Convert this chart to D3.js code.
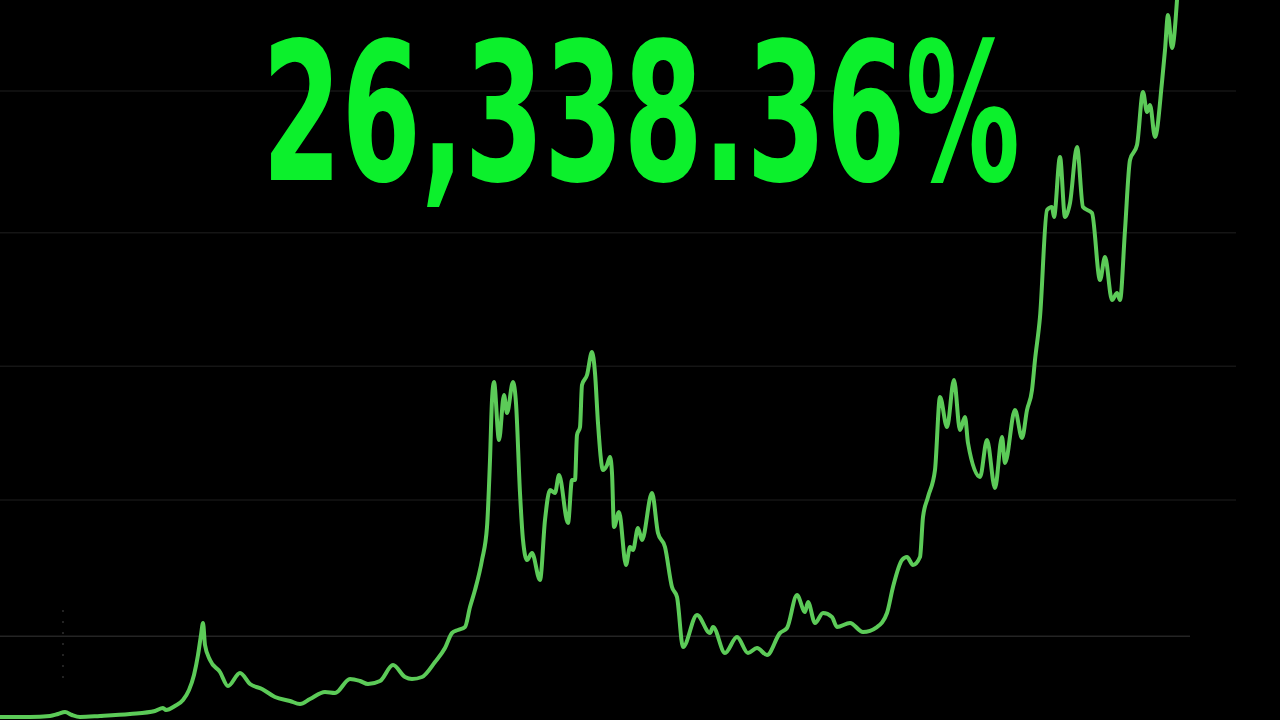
<!DOCTYPE html>
<html>
<head>
<meta charset="utf-8">
<script src="https://cdn.jsdelivr.net/npm/d3@7"></script>
<style>
  html, body { margin: 0; padding: 0; background: #000; overflow: hidden; }
  svg { display: block; }
</style>
</head>
<body>
<script>
// ---- Data ----
const title = "26,338.36%";
// time index of each sample (relative position along the period)
const periods = [0,30,50,58,65,72,80,100,130,155,163,166,175,183,189,194,198,201,203,205,210,220,228,240,250,262,275,290,300,310,325,335,350,360,368,380,393,405,412,422,435,445,452,458,465,470,475,482,487,490,492,494,499,504,507,513,516,520,523,527,532,540,545,550,555,559,568,572,575,577,580,582,587,592,595,598,603,607,610,612,614,619,626,630,633,638,642,652,658,665,672,677,683,697,710,713,725,737,748,757,767,780,787,797,805,808,815,823,832,837,850,863,877,887,893,902,907,913,920,923,928,935,940,947,954,960,965,968,980,987,995,1002,1005,1015,1022,1027,1032,1035,1040,1047,1052,1054,1060,1065,1070,1077,1083,1092,1100,1105,1112,1117,1120,1125,1130,1137,1143,1147,1150,1155,1162,1165,1168,1172,1177];
// cumulative return in percent
const returns = [37,37,73,147,220,110,37,73,147,257,367,293,440,660,1027,1577,2311,3044,3485,2678,2128,1687,1174,1651,1247,1064,770,624,514,697,954,917,1431,1357,1247,1357,1944,1504,1431,1504,2054,2568,3118,3228,3338,4071,4695,5795,7006,9463,11664,12324,10197,11848,11187,12324,11554,8253,6529,5795,6052,5062,7263,8363,8253,8913,7153,8730,8730,10380,10674,12214,12581,13425,12655,10821,9097,9280,9573,8987,7006,7556,5612,6272,6162,6969,6529,8253,6786,6272,4805,4438,2604,3778,3118,3338,2384,2971,2384,2568,2311,3118,3301,4512,3888,4255,3485,3851,3705,3338,3485,3154,3338,3851,4805,5795,5905,5612,5905,7373,8106,9097,11774,10674,12398,10564,11041,10087,8840,10197,8436,10307,9353,11297,10270,11297,12031,13131,14709,18633,18743,18377,20578,18377,18890,20944,18743,18523,16066,16909,15332,15588,15332,17900,20467,21017,22962,22228,22485,21311,23328,24502,25786,24576,26338];
// horizontal reference levels
const gridLevels = [3000, 8000, 12900, 17800, 23000];

// ---- Layout ----
const W = 1280, H = 720;
const svg = d3.select("body").append("svg").attr("width", W).attr("height", H);
svg.append("rect").attr("width", W).attr("height", H).attr("fill", "#000");

const x = d3.scaleLinear().domain([0, 1280]).range([0, W]);
const y = d3.scaleLinear().domain([0, 26338]).range([718, 0]);

// grid
svg.append("g").selectAll("line").data(gridLevels).join("line")
  .attr("x1", 0).attr("x2", (d, i) => i === 0 ? 1190 : 1236)
  .attr("y1", d => y(d)).attr("y2", d => y(d))
  .attr("stroke", (d, i) => i === 0 ? "#242424" : "#151515")
  .attr("stroke-width", 1.5);

// faint dotted marker
svg.append("line")
  .attr("x1", x(63)).attr("x2", x(63)).attr("y1", 610).attr("y2", 680)
  .attr("stroke", "#3a3a3a").attr("stroke-width", 1.2).attr("stroke-dasharray", "2,9");

// line
const data = periods.map((p, i) => [p, returns[i]]);
const line = d3.line().x(d => x(d[0])).y(d => y(d[1])).curve(d3.curveMonotoneX);
svg.append("path").datum(data)
  .attr("d", line)
  .attr("fill", "none")
  .attr("stroke", "#5ccb58")
  .attr("stroke-width", 4)
  .attr("stroke-linejoin", "round")
  .attr("stroke-linecap", "round");

// title (condensed horizontally to match the reference's narrow face)
const t = svg.append("text")
  .attr("x", 0).attr("y", 0)
  .attr("font-family", "'Liberation Sans Narrow', 'DejaVu Sans Condensed', sans-serif")
  .attr("font-weight", "bold")
  .attr("font-size", 192)
  .attr("fill", "#0cf02c")
  .text(title);
const w = t.node().getComputedTextLength();
const sx = 758 / w;
t.attr("transform", `translate(262,180) scale(${sx},1)`);
</script>
</body>
</html>
